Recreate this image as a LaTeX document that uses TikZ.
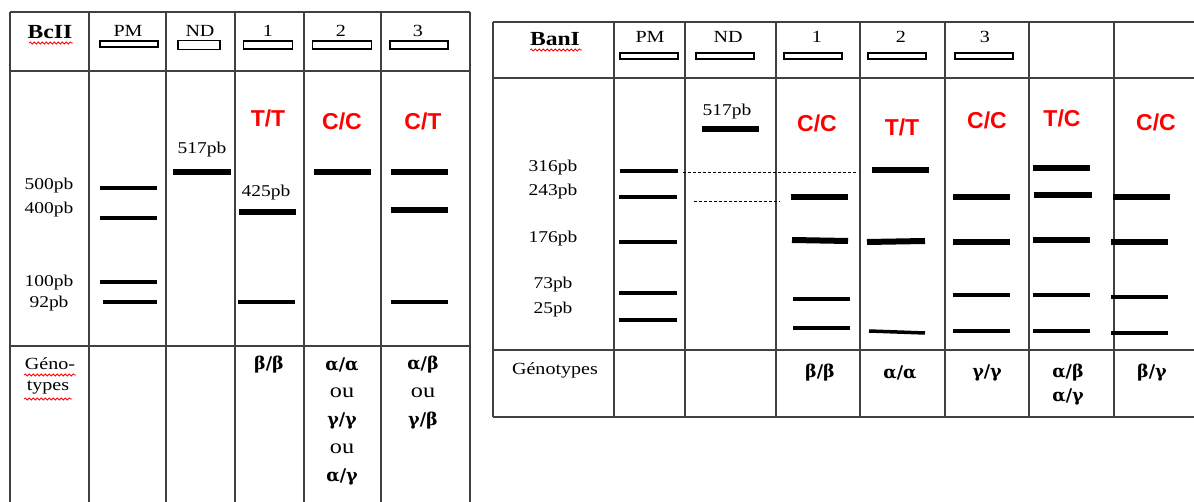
\documentclass[tikz,border=0pt]{standalone}
\usepackage{fontspec}
\setmainfont{Liberation Serif}[FakeStretch=1.18]
\setsansfont{Liberation Sans}
\newfontfamily\grkfont{DejaVu Serif}
\usetikzlibrary{decorations.pathmorphing}
\tikzset{
 grid/.style={line width=1.4pt, draw=black!75},
 fatband/.style={line width=6pt},
 thinband/.style={line width=3.5pt},
 wellbox/.style={draw, line width=1.2pt, inner sep=0pt, minimum height=6pt},
 hdr/.style={font=\fontsize{17}{17}\selectfont, inner sep=0pt},
 enz/.style={font=\bfseries\fontsize{20}{20}\selectfont, inner sep=0pt},
 pb/.style={font=\fontsize{16.5}{16.5}\selectfont, inner sep=0pt},
 allele/.style={text=red, font=\sffamily\bfseries\fontsize{23}{23}\selectfont, inner sep=0pt},
 geno/.style={font=\grkfont\bfseries\fontsize{17.5}{17.5}\selectfont, inner sep=0pt},
 ou/.style={font=\fontsize{20.5}{20.5}\selectfont, inner sep=0pt},
 wavy/.style={red, line width=0.8pt, decorate, decoration={snake, amplitude=1pt, segment length=4pt}},
 dashline/.style={dashed, line width=0.8pt, dash pattern=on 3pt off 2pt},
}
\begin{document}
\begin{tikzpicture}[x=1pt,y=-1pt]
\useasboundingbox (0,0) rectangle (1194,502);
% ===== Left table =====
\foreach \yy in {12,71,346} \draw[grid] (10,\yy) -- (470,\yy);
\foreach \xx in {10,89,166,235,304,381,470} \draw[grid] (\xx,12) -- (\xx,502);
% header
\node[enz] (bcl) at (50,32) {BcII};
\draw[wavy] (29,43) -- (73,43);
\node[hdr] (lpm) at (128,31) {PM};
\node[wellbox, minimum width=58pt] (lpmw) at (129,44) {};
\node[hdr] (lnd) at (200,31) {ND};
\node[wellbox, minimum width=42pt, minimum height=9pt] (lndw) at (199,45) {};
\node[hdr] (l1) at (268,31) {1};
\node[wellbox, minimum width=49pt, minimum height=8pt] (l1w) at (268,45) {};
\node[hdr] (l2) at (341,31) {2};
\node[wellbox, minimum width=59pt, minimum height=8pt] (l2w) at (342,45) {};
\node[hdr] (l3) at (418,31) {3};
\node[wellbox, minimum width=58pt, minimum height=8pt] (l3w) at (419,45) {};
% size labels
\node[pb] (l500) at (49,186) {500pb};
\node[pb] (l400) at (49,210) {400pb};
\node[pb] (l100) at (49,283) {100pb};
\node[pb] (l92) at (49,304) {92pb};
% PM bands
\draw[thinband] (100,188) -- (157,188);
\draw[thinband] (100,218) -- (157,218);
\draw[thinband] (100,282) -- (157,282);
\draw[thinband] (103,302) -- (157,302);
% ND
\node[pb] (l517) at (202,150) {517pb};
\draw[fatband] (173,172) -- (231,172);
% lane 1
\node[allele] (ltt) at (268,118) {T/T};
\node[pb] (l425) at (266,193) {425pb};
\draw[fatband] (239,212) -- (296,212);
\draw[thinband] (238,302) -- (295,302);
% lane 2
\node[allele] (lcc) at (342,121) {C/C};
\draw[fatband] (314,172) -- (371,172);
% lane 3
\node[allele] (lct) at (423,121) {C/T};
\draw[fatband] (391,172) -- (448,172);
\draw[fatband] (391,210) -- (448,210);
\draw[thinband] (391,302) -- (448,302);
% genotypes
\node[hdr] (lgeno1) at (50,364) {Géno-};
\node[hdr] (lgeno2) at (48,388) {types};
\draw[wavy] (24,375) -- (76,375);
\draw[wavy] (24,399) -- (72,399);
\node[geno] (lg1) at (269,365) {β/β};
\node[geno] (lg2a) at (342,365) {α/α};
\node[ou] (lg2b) at (342,393) {ou};
\node[geno] (lg2c) at (342,421) {γ/γ};
\node[ou] (lg2d) at (342,449) {ou};
\node[geno] (lg2e) at (342,477) {α/γ};
\node[geno] (lg3a) at (423,365) {α/β};
\node[ou] (lg3b) at (423,393) {ou};
\node[geno] (lg3c) at (423,421) {γ/β};
% ===== Right table (BanI) =====
\foreach \yy in {22,78,350,417} \draw[grid] (493,\yy) -- (1194,\yy);
\foreach \xx in {493,614,685,776,860,945,1029,1114} \draw[grid] (\xx,22) -- (\xx,417);
\node[enz] (ban) at (555,39) {BanI};
\draw[wavy] (530,50) -- (582,50);
\node[hdr] (rpm) at (650,37) {PM};
\node[wellbox, minimum width=58pt] (rpmw) at (649,56) {};
\node[hdr] (rnd) at (728,37) {ND};
\node[wellbox, minimum width=58pt] (rndw) at (725,56) {};
\node[hdr] (r1) at (817,37) {1};
\node[wellbox, minimum width=58pt] (r1w) at (813,56) {};
\node[hdr] (r2) at (901,37) {2};
\node[wellbox, minimum width=58pt] (r2w) at (897,56) {};
\node[hdr] (r3) at (985,37) {3};
\node[wellbox, minimum width=58pt] (r3w) at (984,56) {};
% size labels
\node[pb] (r316) at (553,168) {316pb};
\node[pb] (r243) at (553,192) {243pb};
\node[pb] (r176) at (553,239) {176pb};
\node[pb] (r73) at (553,285) {73pb};
\node[pb] (r25) at (553,310) {25pb};
% PM bands
\draw[thinband] (620,171) -- (678,171);
\draw[thinband] (619,197) -- (677,197);
\draw[thinband] (619,242) -- (677,242);
\draw[thinband] (619,293) -- (677,293);
\draw[thinband] (619,320) -- (677,320);
% ND
\node[pb] (r517) at (727,112) {517pb};
\draw[fatband] (702,129) -- (759,129);
\coordinate (d1a) at (683,172);
\coordinate (d1b) at (858,172);
\coordinate (d2a) at (694,201);
\coordinate (d2b) at (780,201);
\draw[dashline] (d1a) -- (d1b);
\draw[dashline] (d2a) -- (d2b);
% lane 1
\node[allele] (rcc1) at (817,123) {C/C};
\draw[fatband] (791,197) -- (848,197);
\draw[fatband] (792,240) -- (848,241);
\draw[thinband] (793,299) -- (850,299);
\draw[thinband] (793,328) -- (850,328);
% lane 2
\node[allele] (rtt) at (902,127) {T/T};
\draw[fatband] (872,170) -- (929,170);
\draw[fatband] (867,242) -- (925,241);
\draw[thinband] (869,331) -- (925,333);
% lane 3
\node[allele] (rcc3) at (987,120) {C/C};
\draw[fatband] (953,197) -- (1010,197);
\draw[fatband] (953,242) -- (1010,242);
\draw[thinband] (953,295) -- (1010,295);
\draw[thinband] (953,331) -- (1010,331);
% lane 4
\node[allele] (rtc) at (1062,118) {T/C};
\draw[fatband] (1033,168) -- (1090,168);
\draw[fatband] (1034,195) -- (1092,195);
\draw[fatband] (1033,240) -- (1090,240);
\draw[thinband] (1033,295) -- (1090,295);
\draw[thinband] (1033,331) -- (1090,331);
% lane 5
\node[allele] (rcc5) at (1156,122) {C/C};
\draw[fatband] (1113,197) -- (1170,197);
\draw[fatband] (1111,242) -- (1168,242);
\draw[thinband] (1111,297) -- (1168,297);
\draw[thinband] (1111,333) -- (1168,333);
% genotypes
\node[hdr] (rgeno) at (555,370) {Génotypes};
\node[geno] (rg1) at (820,373) {β/β};
\node[geno] (rg2) at (900,373) {α/α};
\node[geno] (rg3) at (987,373) {γ/γ};
\node[geno] (rg4a) at (1068,373) {α/β};
\node[geno] (rg4b) at (1068,397) {α/γ};
\node[geno] (rg5) at (1152,373) {β/γ};
\end{tikzpicture}
\end{document}
